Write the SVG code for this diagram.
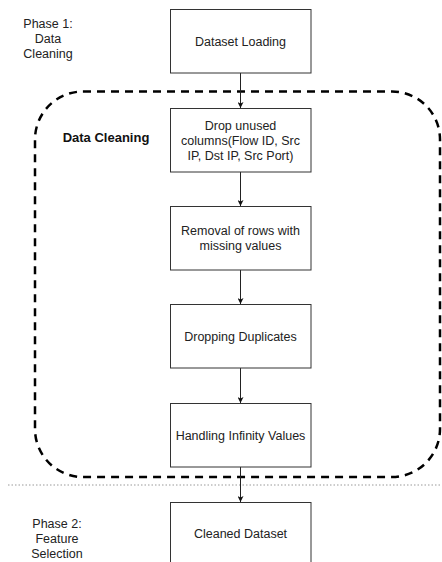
<svg xmlns="http://www.w3.org/2000/svg" width="442" height="562" viewBox="0 0 442 562">
<defs>
<style>
.box{fill:#fff;stroke:#333;stroke-width:1}
.t{font-family:"Liberation Sans",Arial,sans-serif;font-size:12.5px;fill:#222;text-anchor:middle}
.b{font-family:"Liberation Sans",Arial,sans-serif;font-size:13px;font-weight:bold;fill:#111;text-anchor:middle}
.c{stroke:#222;stroke-width:1;fill:none}
</style>
<marker id="ah" viewBox="0 0 10 10" refX="10" refY="5" markerWidth="6" markerHeight="6" markerUnits="userSpaceOnUse" orient="auto">
<path d="M0,0 L10,5 L0,10 L2.5,5 Z" fill="#111"/>
</marker>
</defs>
<rect width="442" height="562" fill="#fff"/>
<g id="phase-divider"><line x1="8" y1="485" x2="442" y2="485" stroke="#999" stroke-width="1" stroke-dasharray="1.5 2"/></g>
<g id="cleaning-group">
<rect x="35" y="91.5" width="405" height="385.5" rx="48" ry="48" fill="none" stroke="#000" stroke-width="2.5" stroke-dasharray="8 6"/>
<text class="b" x="106" y="142">Data Cleaning</text>
</g>
<g id="phase1-label"><text class="t" x="48" y="28">Phase 1:</text><text class="t" x="48" y="43">Data</text><text class="t" x="48" y="57.5">Cleaning</text></g>
<g id="phase2-label"><text class="t" x="57" y="528">Phase 2:</text><text class="t" x="57" y="543">Feature</text><text class="t" x="57" y="558">Selection</text></g>
<g id="connectors">
<line class="c" x1="240.5" y1="73" x2="240.5" y2="108" marker-end="url(#ah)"/>
<line class="c" x1="240.5" y1="172" x2="240.5" y2="206" marker-end="url(#ah)"/>
<line class="c" x1="240.5" y1="270" x2="240.5" y2="304" marker-end="url(#ah)"/>
<line class="c" x1="240.5" y1="368" x2="240.5" y2="403" marker-end="url(#ah)"/>
<line class="c" x1="240.5" y1="467" x2="240.5" y2="502" marker-end="url(#ah)"/>
</g>
<g id="n-loading"><rect class="box" x="170.5" y="9.5" width="140.5" height="63.5"/><text class="t" x="240.5" y="46">Dataset Loading</text></g>
<g id="n-drop"><rect class="box" x="170.5" y="108.5" width="140.5" height="63.5"/><text class="t" x="240.5" y="129.5">Drop unused</text><text class="t" x="240.5" y="144.5">columns(Flow ID, Src</text><text class="t" x="240.5" y="159.5">IP, Dst IP, Src Port)</text></g>
<g id="n-removal"><rect class="box" x="170.5" y="206.5" width="140.5" height="63.5"/><text class="t" x="240.5" y="235">Removal of rows with</text><text class="t" x="240.5" y="250">missing values</text></g>
<g id="n-dup"><rect class="box" x="170.5" y="304.5" width="140.5" height="63.5"/><text class="t" x="240.5" y="340.5">Dropping Duplicates</text></g>
<g id="n-inf"><rect class="box" x="170.5" y="403.5" width="140.5" height="63.5"/><text class="t" x="240.5" y="439.5">Handling Infinity Values</text></g>
<g id="n-cleaned"><rect class="box" x="170.5" y="502.5" width="140.5" height="63.5"/><text class="t" x="240.5" y="538">Cleaned Dataset</text></g>
</svg>
